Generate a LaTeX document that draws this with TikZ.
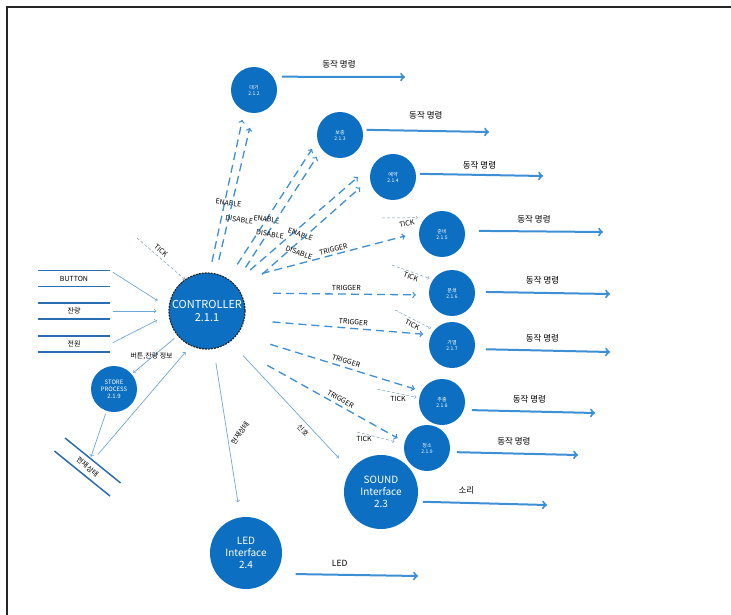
\documentclass[tikz,border=0pt]{standalone}
\usepackage{fontspec}
\setmainfont{Noto Sans CJK KR}
\usetikzlibrary{arrows,positioning}
\definecolor{dfdblue}{HTML}{0C6FC1}
\definecolor{flowblue}{HTML}{3D8FD5}
\definecolor{storeblue}{HTML}{2B6DB2}
\definecolor{datablue}{HTML}{6EA6D8}
\definecolor{tickgray}{HTML}{7F9DBD}
\tikzset{
    %Define standard arrow tip
    >=to,
    %Define style for process bubbles
    proc/.style={
           circle,
           fill=dfdblue,
           text=white,
           minimum size=46pt,
           inner sep=0pt,
           align=center,
           font=\fontsize{5}{6}\selectfont},
    bigproc/.style={
           proc,
           minimum size=74pt,
           font=\fontsize{10}{12}\selectfont},
    ctlproc/.style={
           proc,
           minimum size=76pt,
           draw=black!85, line width=1.2pt,
           dash pattern=on 2pt off 1pt,
           font=\fontsize{11}{13}\selectfont},
    %Define style for data stores
    store/.style={
           minimum width=72pt,
           minimum height=15.5pt,
           inner sep=0pt,
           font=\fontsize{7}{8}\selectfont},
    storeline/.style={draw=storeblue, line width=1.5pt},
    % Define arrow styles
    cmd/.style={
           ->,
           line width=2pt,
           draw=flowblue},
    ctrl/.style={
           ->,
           line width=1.3pt,
           draw=flowblue,
           dash pattern=on 8pt off 5pt},
    datapil/.style={
           ->,
           line width=0.7pt,
           draw=datablue,
           shorten <=3pt},
    tickpil/.style={
           ->,
           line width=0.5pt,
           draw=tickgray,
           dash pattern=on 3pt off 2pt},
    lbl/.style={font=\fontsize{7}{8}\selectfont, inner sep=1pt},
    cmdlbl/.style={font=\fontsize{8.5}{10}\selectfont, above=4pt, pos=0.5}
}
\begin{document}
\begin{tikzpicture}[x=1pt, y=-1pt]
\useasboundingbox (0,0) rectangle (731,615);
\draw[black!85, line width=1.6pt] (7,620) -- (7,7) -- (740,7);

%nodes
\node[ctlproc] (ctl) at (207,311) {CONTROLLER\\2.1.1};
\node[proc] (p2) at (254,90) {대기\\2.1.2};
\node[proc] (p3) at (340,135) {보충\\2.1.3};
\node[proc] (p4) at (393,177) {예약\\2.1.4};
\node[proc] (p5) at (442,234) {준비\\2.1.5};
\node[proc] (p6) at (452,293) {분쇄\\2.1.6};
\node[proc] (p7) at (452,345) {가열\\2.1.7};
\node[proc] (p8) at (442,402) {추출\\2.1.8};
\node[proc] (p9) at (427,448) {청소\\2.1.9};
\node[proc, font=\fontsize{6}{7}\selectfont] (st) at (114,389) {STORE\\PROCESS\\2.1.9};
\node[bigproc] (snd) at (381,492) {SOUND\\Interface\\2.3};
\node[bigproc, minimum size=72pt] (led) at (246,553) {LED\\Interface\\2.4};

%data stores
\node[store] (btn) at (74,278.5) {BUTTON};
\node[store] (rem) at (74,311) {잔량};
\node[store] (pwr) at (74,344) {전원};
\node[store, minimum width=71pt, minimum height=16.4pt, rotate=-39] (cur) at (87.5,467) {현재상태};
\foreach \s in {btn,rem,pwr,cur}
    \draw[storeline] (\s.north west) -- (\s.north east) (\s.south west) -- (\s.south east);

%free ends
\coordinate (o2) at (405,77);
\coordinate (o3) at (489,132);
\coordinate (o4) at (543,176);
\coordinate (o5) at (603,232);
\coordinate (o6) at (610,294);
\coordinate (o7) at (610,352);
\coordinate (o8) at (595,413);
\coordinate (o9) at (578,455);
\coordinate (osnd) at (547,505);
\coordinate (oled) at (418,576);
\coordinate (tk) at (137,238);
\coordinate (k5) at (382,218);
\coordinate (k6) at (392,265);
\coordinate (k7) at (395,310);
\coordinate (k8) at (377,389);
\coordinate (k9) at (357,432);

%outputs
\draw [cmd, shorten <=9pt] (p2.35) -- node[cmdlbl] {동작 명령} (o2);
\draw [cmd, shorten <=4pt] (p3.13) -- node[cmdlbl, above=7pt] {동작 명령} (o3);
\draw [cmd, shorten <=4pt] (p4.8) -- node[cmdlbl, above=1pt] {동작 명령} (o4);
\draw [cmd, shorten <=14pt] (p5.8) -- node[cmdlbl] {동작 명령} (o5);
\draw [cmd, shorten <=11pt] (p6.3) -- node[cmdlbl] {동작 명령} (o6);
\draw [cmd, shorten <=11pt] (p7.350) -- node[cmdlbl] {동작 명령} (o7);
\draw [cmd, shorten <=8pt] (p8.340) -- node[cmdlbl] {동작 명령} (o8);
\draw [cmd, shorten <=7pt] (p9.350) -- node[cmdlbl] {동작 명령} (o9);
\draw [cmd, shorten <=6pt] (snd.345) -- node[cmdlbl, pos=0.38] {소리} (osnd);
\draw [cmd, shorten <=20pt] (led.325) -- node[cmdlbl, pos=0.45] {LED} (oled);

%enable / disable
\draw [ctrl, shorten <=11pt, shorten >=9pt] (ctl.86) -- node[lbl, pos=.43, xshift=4pt, rotate=-8] {ENABLE} (p2.245);
\draw [ctrl, shorten <=14pt, shorten >=15pt] (ctl.77) -- node[lbl, pos=.335, xshift=11pt, rotate=-8] {DISABLE} (p2.268);
\draw [ctrl, shorten <=17pt, shorten >=10pt] (ctl.57) -- node[lbl, pos=.43, rotate=-8] {ENABLE} (p3.194);
\draw [ctrl, shorten <=20pt, shorten >=9pt] (ctl.44) -- node[lbl, pos=.37, xshift=3pt, rotate=-8] {DISABLE} (p3.218);
\draw [ctrl, shorten <=21pt, shorten >=23pt] (ctl.45) -- node[lbl, pos=.47, yshift=-8pt, rotate=-20] {ENABLE} (p4.140);
\draw [ctrl, shorten <=28pt, shorten >=13pt] (ctl.28) -- node[lbl, pos=.45, yshift=-11pt, rotate=-20] {DISABLE} (p4.185);

%triggers
\draw [ctrl, shorten <=31pt, shorten >=14pt] (ctl.50) -- node[lbl, sloped, above=1pt, pos=.55] {TRIGGER} (p5.176);
\draw [ctrl, shorten <=32pt, shorten >=13pt] (ctl.28) -- node[lbl, sloped, above=2pt, pos=.56] {TRIGGER} (p6.185);
\draw [ctrl, shorten <=28pt, shorten >=8pt] (ctl.347) -- node[lbl, sloped, above=2pt, pos=.58] {TRIGGER} (p7.154);
\draw [ctrl, shorten <=34pt, shorten >=7pt] (ctl.323) -- node[lbl, sloped, above=2pt, pos=.58] {TRIGGER} (p8.152);
\draw [ctrl, shorten <=45pt, shorten >=8pt] (ctl.303) -- node[lbl, sloped, above=2pt, pos=.62] {TRIGGER} (p9.165);

%ticks
\draw [tickpil] (tk) -- node[lbl, sloped, above=2pt, pos=.42] {TICK} (ctl.125);
\draw [tickpil, shorten >=8pt] (k5) -- node[lbl, below=2pt, pos=.55, rotate=12] {TICK} (p5.135);
\draw [tickpil, shorten >=4pt] (k6) -- node[lbl, sloped, below=1pt, pos=.5] {TICK} (p6.145);
\draw [tickpil, shorten >=4pt] (k7) -- node[lbl, sloped, below=1pt, pos=.5] {TICK} (p7.140);
\draw [tickpil, shorten >=3pt] (k8) -- node[lbl, below=2pt, pos=.5] {TICK} (p8.170);
\draw [tickpil, shorten >=10pt] (k9) -- node[lbl, below=1pt, pos=.15] {TICK} (p9.170);

%data flows
\draw [datapil, shorten >=13pt] (btn.north east) -- (ctl.175);
\draw [datapil, shorten >=12pt] (rem.east) -- (ctl.180);
\draw [datapil, shorten >=13pt] (pwr.east) -- (ctl.185);
\draw [datapil, shorten <=4pt, shorten >=2pt] (ctl.220) -- node[lbl, pos=.5, xshift=-3pt, yshift=-1pt] {버튼,잔량 정보} (st);
\draw [datapil, shorten >=2pt] (st) -- (cur);
\draw [datapil, shorten <=8pt, shorten >=8pt] (cur.north) -- (ctl.245);
\draw [datapil, shorten <=14pt, shorten >=15pt] (ctl.280) -- node[lbl, pos=.5, xshift=13pt, rotate=55] {현재상태} (led);
\draw [datapil, shorten <=19pt, shorten >=17pt] (ctl.307) -- node[lbl, sloped, below=3pt, pos=.65] {신호} (snd.145);

\end{tikzpicture}
\end{document}
